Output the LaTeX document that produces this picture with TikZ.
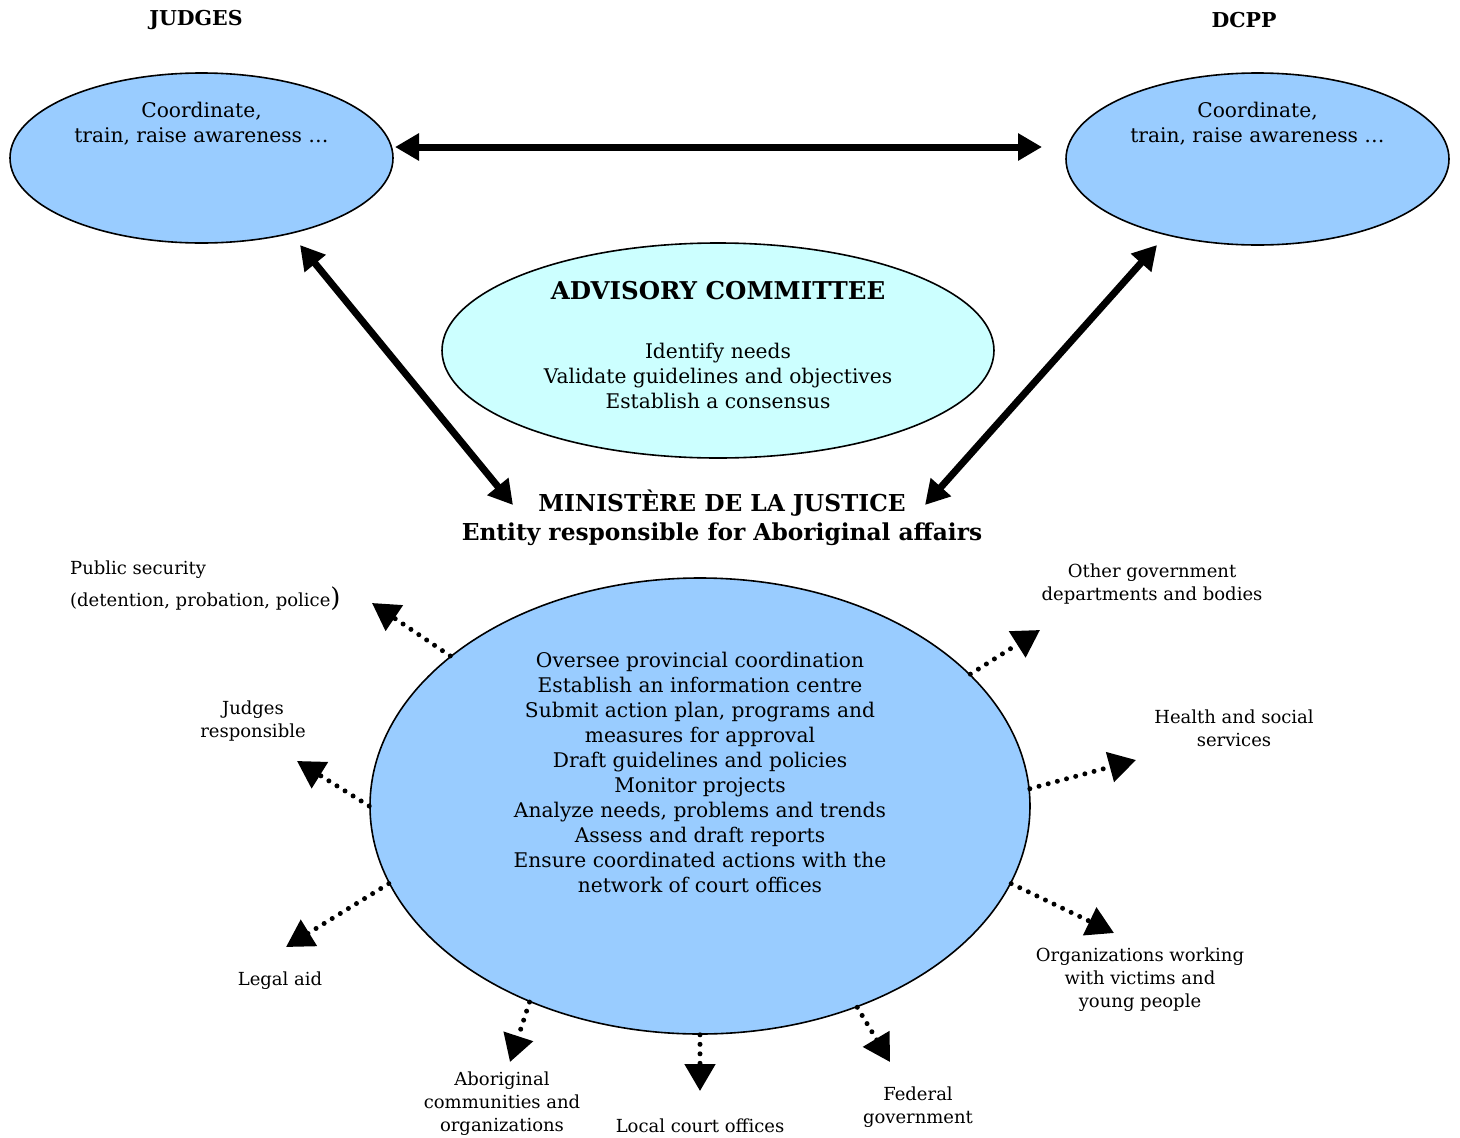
\documentclass[tikz,border=0pt]{standalone}
\usepackage{fontspec}
\setmainfont{DejaVu Serif}
\usetikzlibrary{shapes.geometric,arrows.meta}
\definecolor{lblue}{HTML}{99CCFF}
\definecolor{lcyan}{HTML}{CCFFFF}
\begin{document}
\begin{tikzpicture}[x=1pt,y=-1pt,
  oval/.style={ellipse,draw,line width=1.6pt,inner sep=0pt},
  bigarrow/.style={line width=7pt,{Triangle[length=24pt,width=26pt]}-{Triangle[length=24pt,width=26pt]}},
  dotarrow/.style={line width=5pt,line cap=round,dash pattern=on 0pt off 9.5pt,-{Triangle[length=27pt,width=30pt]}},
  body/.style={align=center,font=\fontsize{20.2}{25}\selectfont,inner sep=0pt},
  small/.style={align=center,font=\fontsize{18}{23}\selectfont,inner sep=0pt},
  head/.style={align=center,font=\fontsize{20.5}{22}\selectfont\bfseries,inner sep=0pt}
]
\useasboundingbox (0,0) rectangle (1460,1138);
% top ellipses
\node[head] (jh) at (196,20) {JUDGES};
\node[head] (dh) at (1244,20) {DCPP};
\node[oval,fill=lblue,minimum width=383pt,minimum height=170pt] (judges) at (201.5,158) {};
\node[oval,fill=lblue,minimum width=383pt,minimum height=172pt] (dcpp) at (1257.5,159) {};
\node[body] (jt) at (201.5,124) {Coordinate,\\train, raise awareness …};
\node[body] (dt) at (1257.5,124) {Coordinate,\\train, raise awareness …};
% advisory
\node[oval,fill=lcyan,minimum width=552pt,minimum height=215pt] (adv) at (718,350.5) {};
\node[align=center,inner sep=0pt,font=\fontsize{24.5}{28}\selectfont\bfseries] (advt) at (718,291) {ADVISORY COMMITTEE};
\node[body] (advb) at (718,376) {Identify needs\\Validate guidelines and objectives\\Establish a consensus};
% ministry
\node[align=center,inner sep=0pt,font=\fontsize{23.3}{29}\selectfont\bfseries] (min) at (722,518) {MINISTÈRE DE LA JUSTICE\\Entity responsible for Aboriginal affairs};
% thick arrows
\coordinate (h1) at (395,147);
\coordinate (h2) at (1042,147);
\draw[bigarrow] (h1) -- (h2);
\coordinate (l1) at (300,245);
\coordinate (l2) at (513,505);
\draw[bigarrow] (l1) -- (l2);
\coordinate (r1) at (1157,245);
\coordinate (r2) at (925,505);
\draw[bigarrow] (r1) -- (r2);
% main ellipse
\node[oval,fill=lblue,minimum width=660pt,minimum height=456pt] (main) at (700,806) {};
\node[body] (mt) at (700,772.5) {Oversee provincial coordination\\Establish an information centre\\Submit action plan, programs and\\measures for approval\\Draft guidelines and policies\\Monitor projects\\Analyze needs, problems and trends\\Assess and draft reports\\Ensure coordinated actions with the\\network of court offices};
% targets
\coordinate (t1) at (372,603);
\coordinate (t2) at (297,761);
\coordinate (t3) at (286,947);
\coordinate (t4) at (510,1062);
\coordinate (t5) at (700,1091);
\coordinate (t6) at (890,1062);
\coordinate (t7) at (1114,933);
\coordinate (t8) at (1136,760);
\coordinate (t9) at (1040,630);
\draw[dotarrow] (main.149.9) -- (t1);
\draw[dotarrow] (main.180) -- (t2);
\draw[dotarrow] (main.194.5) -- (t3);
\draw[dotarrow] (main.229) -- (t4);
\draw[dotarrow] (main.270) -- (t5);
\draw[dotarrow] (main.308.6) -- (t6);
\draw[dotarrow] (main.346.8) -- (t7);
\draw[dotarrow] (main.3.6) -- (t8);
\draw[dotarrow] (main.26.5) -- (t9);
% labels
\node[small,align=left,anchor=west] (ps) at (70,586) {Public security\\[7pt](detention, probation, police{\fontsize{26}{23}\selectfont)}};
\node[small] (jr) at (253,721.5) {Judges\\responsible};
\node[small] (la) at (280,981) {Legal aid};
\node[small] (ab) at (502,1104) {Aboriginal\\communities and\\organizations};
\node[small] (lc) at (700,1126) {Local court offices};
\node[small] (fg) at (918,1107.5) {Federal\\government};
\node[small] (ow) at (1140,979.5) {Organizations working\\with victims and\\young people};
\node[small] (hs) at (1234,728.5) {Health and social\\services};
\node[small] (og) at (1152,584.5) {Other government\\departments and bodies};
\end{tikzpicture}
\end{document}
